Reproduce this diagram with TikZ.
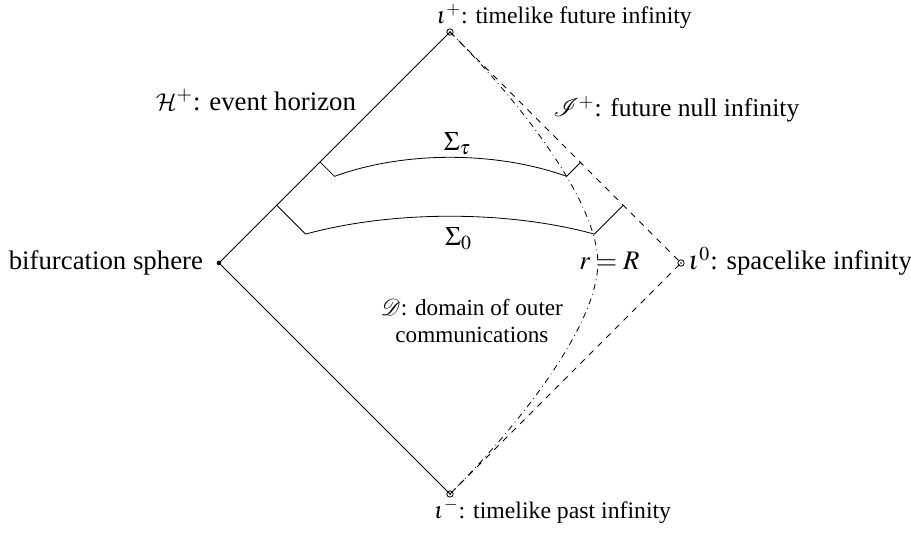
\documentclass[tikz,border=0pt]{standalone}
\usepackage{mathptmx}
\usepackage[no-math]{fontspec}
\setmainfont{Liberation Serif}
\DeclareMathAlphabet{\mathcmcal}{OMS}{cmsy}{m}{n}
\begin{document}
\begin{tikzpicture}[font=\fontsize{11.7}{14}\selectfont,
  lbl/.style={inner sep=0pt},
  big/.style={font=\fontsize{13.2}{15.8}\selectfont},
  mid/.style={font=\fontsize{12.6}{15.1}\selectfont},
  small/.style={font=\fontsize{11.4}{13.4}\selectfont},
  scri/.style={dashed},
  rR/.style={dash dot},
  infpt/.style={circle,draw,inner sep=0pt,minimum size=0.11cm},
  bifpt/.style={circle,fill,inner sep=0pt,minimum size=0.08cm}]
\useasboundingbox (-7.792,-4.693) rectangle (7.983,4.554);
\coordinate (ip) at (0,4);
\coordinate (im) at (0,-4);
\coordinate (bf) at (-4,0);
\coordinate (i0) at (4,0);
\coordinate (rmax) at (2.56,0);
% boundary
\draw (ip) -- (bf) -- (im);
\draw[scri] (ip) -- (i0) -- (im);
% r = R
\draw[rR] (ip) .. controls (1.35,2.65) and (2.56,1.0) .. (rmax)
  .. controls (2.56,-1.0) and (1.35,-2.65) .. (im);
% Sigma_0
\coordinate (s0a) at (-3,1);
\coordinate (s0b) at (-2.5,0.5);
\coordinate (s0c) at (2.5,0.5);
\coordinate (s0d) at (3,1);
\draw (s0a) -- (s0b) .. controls (-1,0.913) and (1,0.913) .. (s0c) -- (s0d);
% Sigma_tau
\coordinate (sta) at (-2.25,1.75);
\coordinate (stb) at (-2,1.5);
\coordinate (stc) at (2.02,1.5);
\coordinate (std) at (2.27,1.75);
\draw (sta) -- (stb) .. controls (-0.8,1.94) and (0.8,1.94) .. (stc) -- (std);
% points
\node[infpt] (nip) at (ip) {};
\node[infpt] (nim) at (im) {};
\node[infpt] (ni0) at (i0) {};
\fill (ip) circle (0.015);
\fill (im) circle (0.015);
\fill (i0) circle (0.015);
\node[bifpt] (nbf) at (bf) {};
% labels
\node[lbl,anchor=base west] (lip) at (-0.24,4.15) {$\iota^+$: timelike future infinity};
\node[lbl,anchor=base west] (lim) at (-0.28,-4.42) {$\iota^-$: timelike past infinity};
\node[lbl,big,anchor=base east] (lbf) at (-4.27,-0.121) {bifurcation sphere};
\node[lbl,big,anchor=base west] (li0) at (4.12,-0.121) {$\iota^0$: spacelike infinity};
\node[lbl,big,anchor=base west] (lH) at (-5.1,2.649) {$\mathcmcal{H}^+$: event horizon};
\node[lbl,mid,anchor=base west] (lJ) at (1.784,2.53) {$\mathcal{I}^+$: future null infinity};
\node[lbl,big,anchor=base] (lst) at (0.13,1.94) {$\Sigma_\tau$};
\node[lbl,big,anchor=base] (ls0) at (0.15,0.31) {$\Sigma_0$};
\node[lbl,big,anchor=base west] (lr) at (2.234,-0.121) {$r=R$};
\node[lbl,small,align=center] (lD) at (0.38,-1.0) {$\mathcal{D}$: domain of outer\\communications};
\end{tikzpicture}
\end{document}
